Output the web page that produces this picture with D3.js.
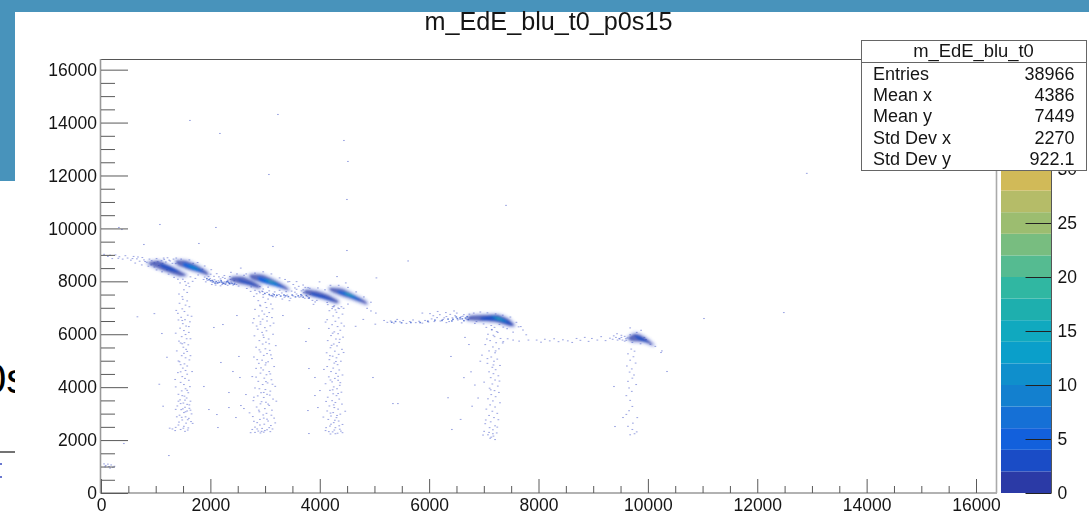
<!doctype html>
<html>
<head>
<meta charset="utf-8">
<script src="https://d3js.org/d3.v7.min.js"></script>
<style>
    html, body { margin: 0; padding: 0; background: #fff; }
    svg { display: block; }
    text { font-family: "Liberation Sans", Arial, sans-serif; fill: #151515; }
    .domain { display: none; }
</style>
</head>
<body>
<svg id="chart" width="1089" height="514"></svg>
<script>
    var titleText = "m_EdE_blu_t0_p0s15";
    var statsTitle = "m_EdE_blu_t0";
    var statsNames = ["Entries", "Mean x", "Mean y", "Std Dev x", "Std Dev y"];
    var statsValues = ["38966", "4386", "7449", "2270", "922.1"];

    var majorTicks = [0, 2000, 4000, 6000, 8000, 10000, 12000, 14000, 16000];
    var minorTicks = [500, 1000, 1500, 2500, 3000, 3500, 4500, 5000, 5500, 6500, 7000, 7500, 8500, 9000, 9500,
        10500, 11000, 11500, 12500, 13000, 13500, 14500, 15000, 15500];
    var zTicks = [0, 5, 10, 15, 20, 25, 30];
    var zBins = [0, 2, 4, 6, 8, 10, 12, 14, 16, 18, 20, 22, 24, 26, 28, 30];
    var palette = ["#2b3aa6", "#1a4cc6", "#1260dc", "#1570d6", "#1380cf", "#0f8fcc", "#0a9fca", "#10a9bf",
        "#1eafae", "#30b7a2", "#55bb91", "#78bd80", "#9cbd70", "#b5bc68", "#d1ba58"];

    // dense islands, outlines: [count level, [x, y], ...]
    var islandA = [
        [1, [860, 8694], [1042, 8770], [1225, 8618], [1408, 8429], [1554, 8240], [1445, 8203], [1225, 8354], [988, 8543]],
        [3, [1079, 8656], [1262, 8543], [1445, 8354], [1300, 8391], [1116, 8543]]
    ];
    var islandB = [
        [1, [1372, 8770], [1554, 8770], [1737, 8618], [1920, 8391], [1957, 8240], [1774, 8354], [1591, 8467], [1408, 8618]],
        [4, [1518, 8694], [1701, 8580], [1883, 8354], [1701, 8429], [1518, 8580]],
        [11, [1591, 8618], [1756, 8505], [1811, 8429], [1664, 8505]]
    ];
    var islandC = [
        [1, [2414, 8165], [2597, 8165], [2762, 8014], [2908, 7825], [2871, 7749], [2689, 7862], [2506, 7938], [2359, 8051]],
        [3, [2506, 8089], [2725, 7938], [2853, 7825], [2689, 7900], [2542, 8014]]
    ];
    var islandD = [
        [1, [2725, 8240], [2945, 8240], [3164, 8051], [3384, 7787], [3420, 7673], [3201, 7825], [2981, 7938], [2762, 8089]],
        [4, [2871, 8165], [3091, 8051], [3347, 7749], [3127, 7862], [2908, 8014]],
        [11, [2981, 8089], [3164, 7976], [3237, 7862], [3054, 7976]],
        [23, [3050, 8030], [3130, 7975], [3150, 7945], [3080, 7985]]
    ];
    var islandE = [
        [1, [3749, 7673], [3932, 7636], [4152, 7484], [4335, 7258], [4298, 7182], [4079, 7333], [3859, 7447], [3713, 7560]],
        [3, [3859, 7560], [4079, 7447], [4261, 7258], [4042, 7371], [3859, 7484]]
    ];
    var islandF = [
        [1, [4188, 7749], [4408, 7711], [4627, 7484], [4829, 7258], [4847, 7144], [4591, 7333], [4371, 7484], [4207, 7636]],
        [4, [4335, 7636], [4554, 7522], [4774, 7258], [4554, 7409], [4353, 7560]],
        [11, [4426, 7598], [4591, 7484], [4664, 7371], [4499, 7484]],
        [20, [4480, 7550], [4570, 7480], [4590, 7450], [4510, 7500]]
    ];
    var islandG = [
        [1, [6749, 6691], [7042, 6728], [7261, 6728], [7444, 6577], [7554, 6350], [7481, 6313], [7225, 6464], [6968, 6502], [6712, 6539]],
        [3, [6932, 6615], [7225, 6691], [7407, 6539], [7517, 6350], [7261, 6502], [7005, 6539]],
        [10, [7133, 6672], [7298, 6615], [7426, 6464], [7243, 6558]],
        [20, [7210, 6640], [7290, 6590], [7340, 6540], [7250, 6585]]
    ];
    var islandH = [
        [1, [9639, 5859], [9749, 6010], [9858, 5972], [10004, 5783], [10096, 5594], [9931, 5708], [9712, 5746]],
        [3, [9749, 5935], [9858, 5897], [10004, 5708], [9858, 5783]]
    ];

    // vertical bands under the islands
    var band1 = [[1480,7340],[1560,7280],[1420,7190],[1530,7120],[1600,7060],[1470,6980],[1510,6880],[1390,6810],[1570,6740],[1450,6660],[1520,6570],[1610,6490],[1480,6420],[1540,6330],[1430,6250],[1500,6160],[1590,6090],[1530,6010],[1460,5930],[1550,5850],[1410,5760],[1510,5700],[1580,5620],[1490,5530],[1540,5450],[1370,5390],[1500,5300],[1460,5210],[1530,5130],[1600,5050],[1420,4980],[1510,4900],[1560,4820],[1480,4740],[1530,4650],[1390,4570],[1560,4510],[1470,4420],[1520,4350],[1590,4280],[1440,4200],[1500,4120],[1350,4030],[1530,3960],[1460,3880],[1580,3810],[1400,3750],[1510,3680],[1550,3610],[1430,3540],[1620,3490],[1490,3420],[1560,3370],[1380,3310],[1520,3260],[1600,3220],[1450,3170],[1560,3120],[1500,3060],[1640,3010],[1420,2960],[1530,2900],[1590,2840],[1470,2780],[1630,2720],[1540,2660],[1400,2590],[1500,2540],[1580,2480],[1440,2420],[1340,2380],[1520,2350]];
    var band1b = [[1360,6920],[1640,6700],[1400,6560],[1470,6540],[1590,6310],[1350,6060],[1620,5850],[1440,5690],[1470,5660],[1560,5370],[1620,5210],[1400,5010],[1440,4870],[1650,4610],[1440,4600],[1340,4310],[1610,4040],[1560,3900],[1470,3700],[1400,3490],[1520,3530],[1440,3400],[1600,3350],[1350,3180],[1480,3200],[1530,3090],[1620,3150],[1370,2900],[1460,2880],[1570,2790],[1410,2700],[1660,2650],[1490,2470],[1350,2500],[1570,2400],[1290,2440]];
    var band2 = [[2950,7420],[3040,7350],[2860,7290],[2990,7220],[3090,7160],[2900,7090],[3010,7030],[2800,6960],[2930,6900],[3060,6840],[2970,6780],[2870,6710],[3110,6650],[2940,6590],[3020,6520],[2760,6450],[2900,6400],[3080,6340],[2980,6270],[2850,6210],[3010,6150],[2930,6090],[3130,6020],[2790,5960],[2960,5900],[3050,5840],[2880,5780],[3000,5720],[2940,5650],[3180,5590],[2820,5530],[2990,5470],[3070,5410],[2900,5350],[3020,5290],[2960,5220],[2780,5160],[3110,5100],[2930,5040],[3040,4980],[2870,4920],[2990,4860],[3150,4800],[2820,4730],[2950,4670],[3060,4610],[2900,4550],[3010,4490],[2750,4420],[2970,4360],[3100,4300],[2860,4240],[3030,4180],[2940,4120],[3170,4050],[2800,3990],[2990,3930],[3080,3870],[2910,3810],[3020,3750],[2850,3690],[2960,3630],[3130,3570],[2770,3510],[3000,3450],[2900,3390],[3060,3330],[2830,3270],[2980,3210],[3110,3150],[2880,3090],[3010,3030],[2950,2970],[2760,2910],[3150,2850],[2890,2800],[3040,2740],[2840,2680],[2970,2620],[3090,2570],[2800,2510],[2930,2460],[3020,2410],[2860,2360],[2960,2320],[2720,2300],[3080,2340],[2900,2290]];
    var band2b = [[2890,7120],[3120,6980],[2780,6610],[3020,6690],[2900,6490],[3140,6440],[2830,6330],[2950,5990],[3060,5660],[2880,5430],[3090,5240],[2840,5060],[3000,4940],[2910,4750],[3080,4520],[2820,4400],[3000,4230],[3120,4130],[2880,3960],[2960,3820],[3070,3720],[2780,3640],[3190,3490],[2920,3470],[3040,3380],[2870,3150],[2700,3050],[3100,2960],[2960,2850],[3020,2810],[2780,2730],[3170,2670],[2890,2590],[3060,2490],[2750,2420],[2840,2440],[2980,2380],[3120,2440],[2920,2350],[2800,2310]];
    var band3 = [[4220,7060],[4340,6990],[4160,6910],[4290,6850],[4400,6780],[4230,6710],[4330,6640],[4120,6570],[4270,6510],[4380,6440],[4210,6380],[4310,6310],[4150,6240],[4360,6170],[4250,6110],[4320,6040],[4190,5970],[4410,5910],[4280,5840],[4130,5780],[4340,5710],[4240,5650],[4300,5580],[4180,5510],[4390,5450],[4260,5380],[4110,5320],[4330,5260],[4220,5190],[4290,5130],[4160,5060],[4370,5000],[4250,4930],[4310,4870],[4120,4800],[4230,4740],[4340,4670],[4190,4610],[4280,4540],[4400,4480],[4150,4410],[4260,4350],[4320,4280],[4210,4220],[4090,4150],[4350,4090],[4240,4030],[4300,3960],[4170,3900],[4380,3830],[4230,3770],[4290,3700],[4130,3640],[4340,3570],[4210,3510],[4270,3440],[4390,3380],[4160,3310],[4250,3250],[4320,3190],[4120,3120],[4230,3060],[4360,3000],[4190,2930],[4290,2870],[4140,2800],[4330,2740],[4240,2680],[4400,2610],[4170,2550],[4270,2490],[4350,2430],[4090,2380],[4220,2330],[4310,2280],[4180,2250],[4400,2300]];
    var band3b = [[4270,6940],[4090,6480],[4430,6330],[4220,6060],[4350,5830],[4200,5600],[4420,5330],[4170,5210],[4280,4990],[4060,4690],[4320,4430],[4180,4290],[4360,4190],[4220,3920],[4320,3780],[4100,3480],[4240,3350],[4450,3110],[4180,3040],[4300,2950],[4050,2890],[4260,2770],[4190,2620],[4340,2560],[4100,2490],[4250,2400],[4150,2340],[4370,2360],[4270,2260]];
    var band4 = [[7130,6180],[7240,6090],[7060,6020],[7180,5930],[7290,5860],[7100,5780],[7210,5700],[7010,5630],[7150,5540],[7260,5470],[7080,5390],[7190,5320],[6950,5230],[7120,5160],[7230,5080],[7170,5000],[7050,4920],[7280,4840],[7140,4770],[7200,4680],[7080,4600],[7160,4530],[7250,4450],[7110,4380],[7190,4290],[6990,4210],[7140,4140],[7240,4060],[7090,3980],[7180,3890],[7260,3820],[7120,3740],[7200,3660],[7060,3580],[7150,3500],[7280,3430],[7100,3350],[7190,3270],[7030,3190],[7140,3110],[7230,3030],[7080,2950],[7170,2870],[7250,2790],[7110,2710],[7010,2640],[7190,2560],[7090,2490],[7150,2410],[6990,2350],[7220,2290],[7060,2220],[7160,2170],[7100,2090],[7190,2040]];
    var band4b = [[7160,5980],[7040,5840],[7330,5690],[7200,5390],[7050,5100],[7160,4860],[7270,4250],[7110,3920],[7020,2780],[7230,2510],[7080,2310],[7150,2260],[6970,2210],[7120,2130]];
    var band5 = [[9680,5460],[9740,5380],[9620,5280],[9720,5170],[9660,5040],[9760,4930],[9600,4820],[9690,4710],[9650,4590],[9730,4480],[9700,4360],[9620,4240],[9770,4120],[9640,3990],[9690,3860],[9590,3700],[9660,3520],[9700,3290],[9640,3130],[9590,2990],[9790,2870],[9710,2660],[9620,2540],[9700,2420],[9780,2330],[9660,2220],[9740,2260]];

    // horizontal tails between the islands
    var tailLeft = [[40,9040],[110,8960],[190,8880],[250,9020],[320,8950],[380,8860],[430,8990],[470,8900],[530,8820],[580,8960],[640,8870],[690,8780],[740,8920],[770,8830],[820,8740],[870,8860],[910,8800],[960,8720],[1000,8880],[1040,8620],[1090,8800],[730,8640],[610,8710],[850,8590],[960,8560],[1140,8850],[1230,8820],[1310,8860],[1360,8900],[1200,8910],[1290,8700],[150,9010],[300,8890],[560,8880],[660,8940],[790,8770],[900,8640],[1020,8760],[1110,8700],[1170,8750]];
    var tailB = [[1880,8180],[1930,8060],[1980,8120],[2020,7990],[2060,8080],[2100,7950],[2130,8040],[2170,8110],[2200,7900],[2240,8000],[2270,7960],[2300,8060],[2330,7930],[2360,7990],[2400,7880],[2430,7950],[2050,8210],[2140,8190],[1990,8290],[2250,8130],[2460,7900],[2010,7900],[2300,7870],[1950,8200],[2080,7880],[2210,8170],[2350,8090],[2170,7850],[2420,8040],[1900,8000]];
    var tailBDense = [[1920,8130],[1990,8050],[2040,8010],[2090,8020],[2150,7990],[2190,8000],[2230,7950],[2280,8010],[2320,7980],[2380,7950],[2120,7970],[2260,7920],[2020,8060],[2340,7940],[2420,7920],[2070,7960],[2180,8050],[1960,8090],[2300,8020],[2210,7960]];
    var tailD = [[2890,7590],[2950,7520],[3020,7600],[3080,7480],[3130,7550],[3180,7430],[3240,7520],[3290,7580],[3340,7420],[3390,7500],[3450,7380],[3500,7470],[3560,7540],[3610,7420],[3660,7490],[3710,7380],[3760,7440],[3810,7530],[3470,7650],[3560,7720],[3650,7660],[3250,7680],[3600,7830],[3720,7790],[3130,7440],[3300,7350],[3430,7290],[3850,7300],[3900,7240],[3500,7900],[3350,8090],[3430,8010],[2930,7650],[3060,7660],[3160,7620],[3370,7630],[3530,7610],[3690,7590]];
    var tailDDense = [[2980,7570],[3060,7530],[3110,7490],[3200,7500],[3270,7470],[3330,7510],[3410,7450],[3480,7510],[3540,7440],[3590,7480],[3680,7430],[3740,7490],[3790,7400],[3150,7520],[3360,7480],[3640,7520]];
    var tailF = [[4850,7000],[4920,6900],[5010,6820],[5160,6540],[5220,6470],[5280,6520],[5340,6440],[5400,6580],[5450,6490],[5510,6540],[5570,6430],[5630,6500],[5690,6560],[5740,6460],[5800,6510],[5860,6440],[5910,6540],[5970,6480],[6030,6600],[6080,6500],[6130,6650],[6190,6520],[6240,6580],[6300,6690],[6350,6500],[6410,6640],[6460,6720],[6510,6560],[6570,6680],[6620,6760],[6670,6590],[5860,6820],[6000,6800],[6140,6880],[6290,6840],[6440,6900],[6720,6780],[6580,6450],[6300,6460],[5000,6400],[4780,6580],[4640,6320],[6060,6720],[6180,6760],[6260,6640],[6370,6770],[6490,6820],[6550,6590],[6600,6700]];
    var tailFDense = [[5300,6480],[5370,6510],[5480,6460],[5650,6470],[5820,6470],[5960,6520],[6090,6560],[6220,6550],[6330,6600],[6420,6590],[6500,6620],[6590,6610],[6650,6640],[6700,6580],[6620,6540],[6550,6650],[6480,6680],[6400,6530],[6680,6690]];
    var tailG = [[7620,6300],[7700,6180],[7760,6000],[7800,5800],[7950,5800],[8030,5720],[8100,5830],[8190,5770],[8270,5850],[8350,5740],[8430,5810],[8520,5770],[8600,5710],[8680,5860],[8750,5790],[8830,5900],[8900,5750],[8960,5860],[9060,5800],[9130,5930],[9210,5780],[9290,5870],[9360,5960],[9430,5800],[9500,5900],[9560,5760],[7630,5760],[7520,5800],[7420,5850],[7340,5740],[9340,5830],[9400,5900],[9460,5860],[9520,5800],[9580,5850]];
    var tailHRim = [[9420,6040],[9500,5980],[9560,5940],[9610,5880],[9660,6000],[9700,5710],[9780,6090],[9850,5660],[9920,5900],[10030,5640],[10120,5560],[9590,5790],[9470,5840],[9660,6260],[9860,6170],[9950,5820],[10240,5390]];
    var rimAB = [[1130,8900],[1250,8790],[1350,8690],[1450,8860],[1600,8830],[1750,8730],[1880,8600],[2000,8460],[2100,8310],[1220,8290],[1320,8170],[1480,8100],[1620,8190],[1760,8260],[1860,8090],[1660,8020],[1540,7870],[1430,7960],[1600,7820],[1500,7700],[1410,7540],[1560,7600],[1470,7440],[1000,8450],[1100,8380],[1190,8460],[1670,8700],[1840,8480],[1520,8010],[1390,8100],[1710,8130],[1580,7950]];
    var rimCD = [[2340,8200],[2470,8300],[2640,8300],[2800,8330],[2950,8380],[3100,8300],[3250,8150],[3400,8000],[3530,7770],[2500,7840],[2650,7750],[2800,7680],[2950,7730],[2720,7640],[2830,7550],[2780,7450],[2890,7820],[2600,8250],[2240,8240],[2360,8360],[2540,8520],[3680,7880],[3770,7780],[3560,8010],[2880,7640],[3040,7800],[2940,7630],[2730,7810]];
    var rimEF = [[3680,7700],[3800,7760],[3950,7770],[4080,7700],[4180,7870],[4330,7870],[4500,7790],[4650,7620],[4790,7430],[4920,7230],[3640,7440],[3780,7380],[3930,7300],[4120,7220],[4250,7100],[4380,7060],[4500,7160],[4210,6990],[3870,7150],[4300,8200],[3980,8000],[4460,7960],[4130,7140],[4320,7010],[4240,7060],[4420,7000]];
    var rimG = [[6800,6820],[6920,6860],[7050,6830],[7200,6790],[7330,6740],[7470,6670],[7580,6470],[7660,6310],[6820,6430],[6980,6410],[7120,6350],[7270,6390],[7410,6230],[7130,6200],[7220,6120],[7340,6290],[7520,6100],[6850,6500],[7030,6280],[7180,6280]];

    // loose counts scattered over the plot
    var strays = [[1610,14100],[3219,14326],[2158,13608],[4426,13343],[4499,12550],[3054,12058],[4481,11113],[311,10055],[366,9979],[1061,10168],[2085,10055],[1774,9450],[3128,9337],[4481,9185],[768,9412],[12890,12100],[11010,6615],[12470,6840],[7390,10890],[5322,3400],[6400,2420],[5413,3400],[4957,4385],[6383,5180],[6712,5632],[2048,6275],[2213,6388],[1097,6048],[2469,6728],[2506,5180],[2176,4952],[2396,4612],[2524,4385],[1865,4045],[2323,3818],[2634,3742],[1957,3175],[2323,3250],[2103,2986],[2451,2873],[2122,2495],[2542,3326],[2597,3213],[3310,6728],[3786,6237],[3731,5746],[3786,4725],[3896,4385],[3786,2268],[3768,3137],[3950,3250],[3987,3893],[3896,3704],[402,1890],[1225,1436],[10224,5330],[10334,4612],[9364,4045],[9529,2873],[9383,2533],[6750,4600],[6820,4100],[6620,4380],[6880,3610],[6770,3300],[6560,2800],[6330,3620],[650,6680],[960,6800],[1190,5150],[1050,4130],[1120,3300],[1240,2470],[6920,5000],[6640,5900],[5600,8790],[5020,8150]];
    var cornerBlob = [[40,1120],[70,1060],[110,1110],[130,1020],[170,1080],[200,990],[60,1010],[230,1030],[150,960]];

    var allIslands = [islandA, islandB, islandC, islandD, islandE, islandF, islandG, islandH];
    var paleCells = [band1, band1b, band2, band2b, band3, band3b, band4, band4b, band5, tailLeft, tailB, tailD, tailF, tailG, rimAB, rimCD, rimEF, rimG, tailHRim, strays, cornerBlob];
    var denseCells = [tailBDense, tailDDense, tailFDense];

    var svg = d3.select("#chart");

    var x = d3.scaleLinear().domain([0, 16384]).range([101, 997]);
    var y = d3.scaleLinear().domain([0, 16384]).range([493, 59.5]);
    var z = d3.scaleLinear().domain([0, 30]).range([493, 169]);
    var colorOf = d3.scaleQuantize().domain([0, 30]).range(palette);

    // page behind the canvas
    svg.append("rect").attr("x", 0).attr("y", 0).attr("width", 1089).attr("height", 12).attr("fill", "#4893bb");
    svg.append("rect").attr("x", 0).attr("y", 0).attr("width", 15).attr("height", 181).attr("fill", "#4893bb");

    var defs = svg.append("defs");
    defs.append("clipPath").attr("id", "leftcut").append("rect").attr("x", 0).attr("y", 340).attr("width", 15).attr("height", 70);
    defs.append("filter").attr("id", "soft").append("feGaussianBlur").attr("stdDeviation", 0.8);

    var behind = svg.append("g");
    behind.append("text").attr("x", -17).attr("y", 393).attr("clip-path", "url(#leftcut)")
        .style("font-size", "42px").style("fill", "#000").text("0s");
    behind.append("line").attr("x1", 0).attr("x2", 15).attr("y1", 452).attr("y2", 452).attr("stroke", "#444").attr("stroke-width", 1.5);
    behind.append("rect").attr("x", 0).attr("y", 463).attr("width", 2).attr("height", 2).attr("fill", "#6a78cf");
    behind.append("rect").attr("x", 0).attr("y", 476).attr("width", 2).attr("height", 2).attr("fill", "#6a78cf");

    // cells
    var cellW = x(32) - x(0);
    var cellH = y(0) - y(40);
    var cells = svg.append("g");
    paleCells.forEach(function (list) {
        cells.selectAll(null).data(list).enter().append("rect")
            .attr("x", d => x(d[0]))
            .attr("y", d => y(d[1]))
            .attr("width", cellW)
            .attr("height", cellH)
            .attr("fill", "#2b3fc0")
            .attr("opacity", 0.45);
    });
    denseCells.forEach(function (list) {
        cells.selectAll(null).data(list).enter().append("rect")
            .attr("x", d => x(d[0]))
            .attr("y", d => y(d[1]))
            .attr("width", cellW)
            .attr("height", cellH + 0.4)
            .attr("fill", "#1f45c4")
            .attr("opacity", 0.65);
    });

    // islands, lowest level first so the ridge stays on top; the halo stands for the speckled fringe
    var ring = d3.line().x(d => x(d[0])).y(d => y(d[1])).curve(d3.curveCardinalClosed.tension(0.3));
    var halo = svg.append("g").attr("filter", "url(#soft)");
    var islands = svg.append("g").attr("filter", "url(#soft)");
    allIslands.forEach(function (island) {
        halo.append("path")
            .attr("d", ring(island[0].slice(1)))
            .attr("fill", "none")
            .attr("stroke", "#4a62d2")
            .attr("stroke-width", 5)
            .attr("stroke-linejoin", "round")
            .attr("opacity", 0.22);
        island.forEach(function (r) {
            islands.append("path")
                .attr("d", ring(r.slice(1)))
                .attr("fill", colorOf(r[0]))
                .attr("opacity", r[0] == 1 ? 0.72 : 0.95);
        });
    });

    // frame
    var lines = svg.append("g");
    lines.append("line").attr("x1", 101).attr("x2", 997).attr("y1", 59.5).attr("y2", 59.5).attr("stroke", "#555");
    lines.append("line").attr("x1", 100.5).attr("x2", 100.5).attr("y1", 59).attr("y2", 493).attr("stroke", "#999").attr("stroke-width", 1.6);
    lines.append("line").attr("x1", 100).attr("x2", 997).attr("y1", 493).attr("y2", 493).attr("stroke", "#999").attr("stroke-width", 1.4);
    lines.append("line").attr("x1", 996.5).attr("x2", 996.5).attr("y1", 59).attr("y2", 493).attr("stroke", "#aaa").attr("stroke-width", 1.6);

    // axes
    function styleAxis(g) {
        g.selectAll("line").attr("stroke", "#5a5a5a");
        g.selectAll("text").style("font-size", "17.5px").attr("fill", "#151515");
    }
    svg.append("g").attr("transform", "translate(0,493)")
        .call(d3.axisBottom(x).tickValues(minorTicks).tickSize(-7).tickFormat(""))
        .call(styleAxis);
    svg.append("g").attr("transform", "translate(0,493)")
        .call(d3.axisBottom(x).tickValues(majorTicks).tickSize(-14).tickPadding(6).tickFormat(d3.format("d")))
        .call(styleAxis);
    svg.append("g").attr("transform", "translate(101,0)")
        .call(d3.axisLeft(y).tickValues(minorTicks).tickSize(-14).tickFormat(""))
        .call(styleAxis);
    svg.append("g").attr("transform", "translate(101,0)")
        .call(d3.axisLeft(y).tickValues(majorTicks).tickSize(-27).tickPadding(4).tickFormat(d3.format("d")))
        .call(styleAxis);

    // colour bar
    var bar = svg.append("g");
    bar.selectAll("rect").data(palette).enter().append("rect")
        .attr("x", 1001)
        .attr("width", 50.5)
        .attr("y", (d, i) => z(zBins[i + 1]))
        .attr("height", (d, i) => z(zBins[i]) - z(zBins[i + 1]))
        .attr("fill", d => d);
    svg.append("g").attr("transform", "translate(1051.5,0)")
        .call(d3.axisRight(z).tickValues(zTicks).tickSize(-26).tickPadding(6))
        .call(styleAxis)
        .call(g => g.selectAll("line").attr("stroke", "#222"));
    svg.append("line").attr("x1", 1051.5).attr("x2", 1051.5).attr("y1", 170).attr("y2", 493).attr("stroke", "#555");

    // title
    svg.append("text").attr("x", 548.5).attr("y", 30).attr("text-anchor", "middle")
        .style("font-size", "25.2px").text(titleText);

    // stats box
    var box = svg.append("g");
    box.append("rect").attr("x", 861.5).attr("y", 40.5).attr("width", 225).attr("height", 130)
        .attr("fill", "#fff").attr("stroke", "#666").attr("stroke-width", 1);
    box.append("line").attr("x1", 862).attr("x2", 1086).attr("y1", 62.5).attr("y2", 62.5).attr("stroke", "#666");
    box.append("text").attr("x", 973.5).attr("y", 57).attr("text-anchor", "middle")
        .style("font-size", "18.4px").text(statsTitle);
    var rowY = d3.scalePoint().domain(statsNames).range([79.5, 165]);
    box.selectAll("text.name").data(statsNames).enter().append("text")
        .attr("class", "name").attr("x", 873).attr("y", d => rowY(d))
        .style("font-size", "18px").text(d => d);
    box.selectAll("text.value").data(statsValues).enter().append("text")
        .attr("class", "value").attr("x", 1074.5).attr("y", (d, i) => rowY(statsNames[i]))
        .attr("text-anchor", "end").style("font-size", "18px").text(d => d);
</script>
</body>
</html>
